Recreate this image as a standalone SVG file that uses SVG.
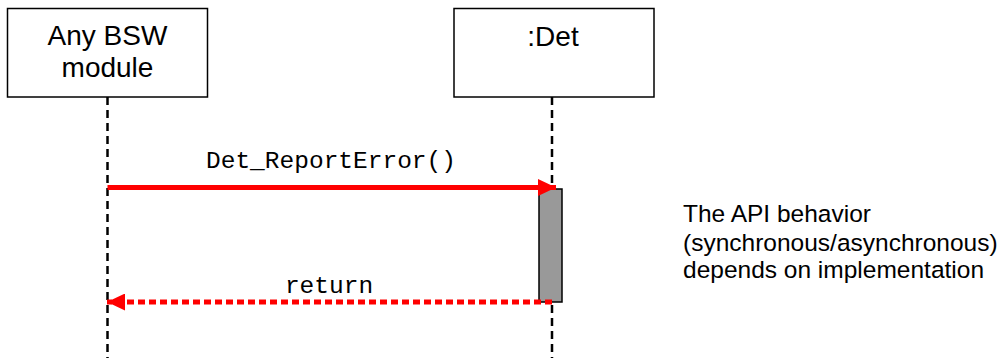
<svg xmlns="http://www.w3.org/2000/svg" width="1004" height="358" viewBox="0 0 1004 358">
<style>
.box{fill:#fff;stroke:#000;stroke-width:1.5}
.life{stroke:#000;stroke-width:2.5;stroke-dasharray:8,5;fill:none}
.lbl{font-family:"Liberation Sans",Arial,sans-serif;font-size:28px;fill:#000;text-anchor:middle}
.mono{font-family:"Liberation Mono","Courier New",monospace;font-size:24.5px;fill:#000;text-anchor:middle}
.note{font-family:"Liberation Sans",Arial,sans-serif;font-size:24.5px;fill:#000}
</style>
<defs>
<marker id="ah" markerWidth="18" markerHeight="17" refX="18" refY="8.5" orient="auto" markerUnits="userSpaceOnUse">
<path d="M0,0 L18,8.5 L0,17 Z" fill="#ff0000"/>
</marker>
</defs>
<g id="bsw">
<rect class="box" x="7.5" y="8.5" width="200" height="88.5"/>
<text class="lbl" x="107.5" y="45">Any BSW</text>
<text class="lbl" x="107.5" y="77">module</text>
</g>
<g id="det">
<rect class="box" x="454" y="8.5" width="200" height="88.5"/>
<text class="lbl" x="553" y="46">:Det</text>
</g>
<g id="lifelines">
<line class="life" x1="107.5" y1="97" x2="107.5" y2="358"/>
<line class="life" x1="552" y1="97" x2="552" y2="358"/>
</g>
<g id="activation">
<rect x="539" y="189" width="23" height="113" fill="#999999" stroke="#000" stroke-width="1.5"/>
</g>
<g id="connectors">
<line x1="107.5" y1="187.5" x2="556" y2="187.5" stroke="#ff0000" stroke-width="5" marker-end="url(#ah)"/>
<line x1="552" y1="302" x2="107" y2="302" stroke="#ff0000" stroke-width="5" stroke-dasharray="7,4" marker-end="url(#ah)"/>
</g>
<g id="labels">
<text class="mono" x="331" y="168">Det_ReportError()</text>
<text class="mono" x="329" y="293">return</text>
</g>
<g id="note">
<text class="note" x="683" y="222">The API behavior</text>
<text class="note" x="683" y="250.5">(synchronous/asynchronous)</text>
<text class="note" x="683" y="278">depends on implementation</text>
</g>
</svg>
